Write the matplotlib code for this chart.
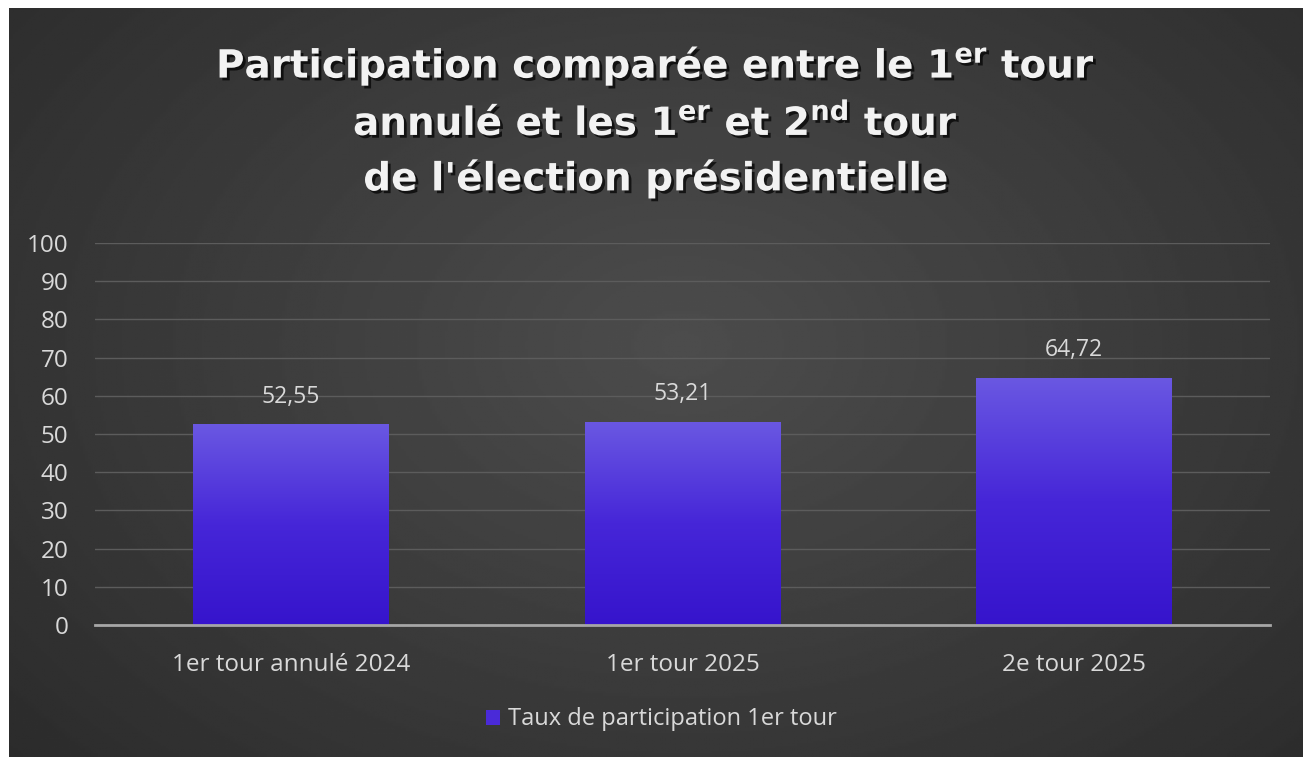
import numpy as np
import matplotlib
matplotlib.use("Agg")
import matplotlib.pyplot as plt
import matplotlib.patheffects as pe
from matplotlib.colors import LinearSegmentedColormap

categories = ["1er tour annulé 2024", "1er tour 2025", "2e tour 2025"]
participation = [52.55, 53.21, 64.72]
value_labels = ["52,55", "53,21", "64,72"]
yticks = [0, 10, 20, 30, 40, 50, 60, 70, 80, 90, 100]
series_name = "Taux de participation 1er tour"

plt.rcParams['font.family'] = ['Open Sans', 'DejaVu Sans']
plt.rcParams['mathtext.fontset'] = 'custom'
plt.rcParams['mathtext.rm'] = 'DejaVu Sans:bold'
plt.rcParams['mathtext.it'] = 'DejaVu Sans:bold'
plt.rcParams['mathtext.bf'] = 'DejaVu Sans:bold'

W, H = 1308, 757
fig = plt.figure(figsize=(W / 100, H / 100), dpi=100, facecolor="white")

# dark background panel with soft radial light in the middle
bg = fig.add_axes([9 / W, 0, (1303 - 9) / W, (H - 8) / H])
bg.set_axis_off()
yy, xx = np.mgrid[0:1:300j, 0:1:500j]
d = np.sqrt(((xx - 0.52) / 0.75) ** 2 + ((yy - 0.45) / 0.9) ** 2)
shade = np.clip(0.30 - 0.14 * d, 0.16, 0.31)
bg.imshow(shade, cmap="gray", vmin=0, vmax=1, aspect="auto", extent=[0, 1, 0, 1])
bg.set_xlim(0, 1)
bg.set_ylim(0, 1)

ax = fig.add_axes([95 / W, 1 - 625 / H, (1270 - 95) / W, (625 - 243) / H])
ax.set_facecolor("none")
x = np.arange(len(categories))
bars = ax.bar(x, participation, width=0.5, color="#4a2ad8", label=series_name, zorder=3)

bar_cmap = LinearSegmentedColormap.from_list("barfade", ["#3614cc", "#4626d8", "#6a58e2"])
grad = np.linspace(0, 1, 256).reshape(-1, 1)
for b in bars:
    x0, y0 = b.get_x(), b.get_y()
    im = ax.imshow(grad, cmap=bar_cmap, aspect="auto", origin="lower",
                   extent=[x0, x0 + b.get_width(), y0, y0 + b.get_height()], zorder=4)
    im.set_clip_path(b)

for b, lab in zip(bars, value_labels):
    ax.annotate(lab, (b.get_x() + b.get_width() / 2, b.get_height()),
                xytext=(0, 11), textcoords="offset points", ha="center", va="bottom",
                color="#d9d9d9", fontsize=16.5)

ax.set_xlim(-0.5, 2.5)
ax.set_ylim(0, 100)
ax.set_yticks(yticks)
ax.set_xticks(x)
ax.set_xticklabels(categories)
ax.tick_params(axis="both", length=0, colors="#d9d9d9", labelsize=17.5)
ax.tick_params(axis="x", pad=20)
ax.tick_params(axis="y", pad=19)
ax.grid(axis="y", color="#5c5c5c", linewidth=1, zorder=0)
for s in ["top", "right", "left"]:
    ax.spines[s].set_visible(False)
ax.spines["bottom"].set_color("#a6a6a6")
ax.spines["bottom"].set_linewidth(2)
ax.spines["bottom"].set_zorder(5)

leg = ax.legend(loc="upper center", bbox_to_anchor=(0.482, -0.16), frameon=False,
                handlelength=0.6, handleheight=0.6, handletextpad=0.3,
                fontsize=17, labelcolor="#d9d9d9")

title = ("Participation comparée entre le 1$^{er}$ tour\n"
         "annulé et les 1$^{er}$ et 2$^{nd}$ tour\n"
         "de l'élection présidentielle")
fig.text(0.501, 1 - 121 / H, title, ha="center", va="center", fontsize=28,
         fontweight="bold", family="DejaVu Sans", color="#f2f2f2", linespacing=1.5,
         path_effects=[pe.SimplePatchShadow(offset=(2, -2), shadow_rgbFace="black", alpha=0.7),
                       pe.Normal()])

fig.savefig("out.png", dpi=100, facecolor="white")
